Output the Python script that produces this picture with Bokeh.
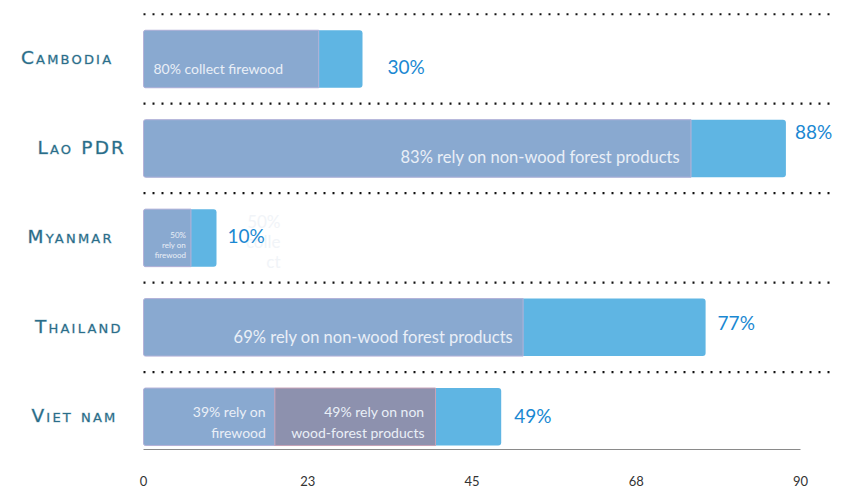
from bokeh.plotting import figure
from bokeh.layouts import row
from bokeh.models import Range1d, FixedTicker, ColumnDataSource, InlineStyleSheet
from bokeh.core.properties import value
from bokeh.embed import file_html
from bokeh.resources import INLINE

# ---------------- data ----------------
countries = ["Cambodia", "Lao PDR", "Myanmar", "Thailand", "Viet nam"]
totals = [30, 88, 10, 77, 49]
share_first = [24, 75, 6.5, 52, 18]
viet_second = 22
inner_labels = ["80% collect firewood",
                "83% rely on non-wood forest products",
                "50%\nrely on\nfirewood",
                "69% rely on non-wood forest products",
                "39% rely on\nfirewood"]
viet_second_label = "49% rely on non\nwood-forest products"
value_labels = ["30%", "88%", "10%", "77%", "49%"]
ghost_label = "50%\ncolle\nct"
tick_values = [0, 22.5, 45, 67.5, 90]
tick_labels = ["0", "23", "45", "68", "90"]

# ---------------- layout / style ----------------
PX = 7.3            # pixels per unit on x
LEFT_W = 133
MAIN_W = 708
H = 488
BOTTOM = 35
rows = list(range(len(countries) - 1, -1, -1))
yr = Range1d(-0.3657, 4.654)

inner_align = ["left", "right", "right", "right", "right"]
inner_size = ["14px", "16.5px", "8px", "16.5px", "14px"]
inner_dx = [10, -11, -5, -10, -9]
inner_dy = [10, 9, 7, 10, 5]
inner_lh = [1.2, 1.2, 1.0, 1.2, 1.25]
value_dx = [25, 9, 11, 12, 13]
value_dy = [8, -17, -2, -5, -1]

LIGHT = "#5fb5e3"
OVER = "#89a9d0"
OVER2 = "#8d91ae"
INNER_TXT = "#e9eff7"
VALUE_TXT = "#1a88d2"
LABEL_TXT = "#2a6d89"

# ---------------- left label panel ----------------
left = figure(width=LEFT_W, height=H, x_range=Range1d(0, LEFT_W), y_range=yr,
              output_backend="svg", toolbar_location=None,
              x_axis_location=None, y_axis_location=None,
              min_border_left=0, min_border_right=0, min_border_top=0,
              min_border_bottom=BOTTOM)
left.grid.visible = False
left.outline_line_color = None
left.stylesheets = [InlineStyleSheet(css=":host { font-variant: small-caps; letter-spacing: 2.2px; }")]
lsrc = ColumnDataSource(dict(y=rows, text=countries))
left.text(x=114, y="y", text="text", source=lsrc, text_align="right",
          text_baseline="middle", y_offset=-1,
          text_font=value("DejaVu Sans"), text_font_size="18.5px",
          text_color=LABEL_TXT, text_outline_color=(42, 109, 137, 0.3))

# ---------------- main chart ----------------
x0 = -10 / PX
main = figure(width=MAIN_W, height=H, x_range=Range1d(x0, x0 + MAIN_W / PX), y_range=yr,
              output_backend="svg", toolbar_location=None, y_axis_location=None,
              min_border_left=0, min_border_right=0, min_border_top=0,
              min_border_bottom=BOTTOM)
main.grid.visible = False
main.outline_line_color = None

src = ColumnDataSource(dict(y=rows, total=totals, first=share_first,
                            sep=[r + 0.5 for r in rows]))

# dotted separators
main.segment(x0=0, x1=94, y0="sep", y1="sep", source=src, line_color="#111111",
             line_width=2.2, line_dash="2 7")

BAR_H = 0.643
main.hbar(y="y", left=0, right="total", height=BAR_H, source=src,
          fill_color=LIGHT, line_color=None, border_radius=3)
main.hbar(y="y", left=0, right="first", height=BAR_H, source=src,
          fill_color=OVER, line_color="#b5b2d8", line_width=1, border_radius=(2, 0, 0, 2))
vi = countries.index("Viet nam")
main.hbar(y=[rows[vi]], left=[share_first[vi]], right=[share_first[vi] + viet_second],
          height=BAR_H, fill_color=OVER2, line_color="#c6a2b6", line_width=1)

# inner labels
for i, lab in enumerate(inner_labels):
    ax = 0 if inner_align[i] == "left" else share_first[i]
    main.text(x=[ax], y=[rows[i]], text=[lab], text_align=inner_align[i],
              text_baseline="middle", x_offset=inner_dx[i], y_offset=inner_dy[i],
              text_font=value("Lato"), text_font_size=inner_size[i],
              text_line_height=inner_lh[i], text_color=INNER_TXT)
main.text(x=[share_first[vi] + viet_second], y=[rows[vi]], text=[viet_second_label],
          text_align="right", text_baseline="middle", x_offset=-11, y_offset=5,
          text_font=value("Lato"), text_font_size="14px", text_line_height=1.25,
          text_color=INNER_TXT)

# faint ghost label near Myanmar
mi = countries.index("Myanmar")
main.text(x=[totals[mi]], y=[rows[mi]], text=[ghost_label], text_align="right",
          text_baseline="middle", x_offset=64, y_offset=4,
          text_font=value("Lato"), text_font_size="17px", text_line_height=0.95,
          text_color="#f1f4f8")

# value labels
vsrc = ColumnDataSource(dict(y=rows, x=totals, text=value_labels, dx=value_dx, dy=value_dy))
main.text(x="x", y="y", text="text", source=vsrc, x_offset="dx", y_offset="dy",
          text_align="left", text_baseline="middle",
          text_font=value("Lato"), text_font_size="19px", text_color=VALUE_TXT)

# axis
ax_ = main.xaxis[0]
ax_.ticker = FixedTicker(ticks=tick_values)
ax_.major_label_overrides = {t: l for t, l in zip(tick_values, tick_labels)}
ax_.bounds = (0, 90)
ax_.axis_line_color = "#8a8a8a"
ax_.axis_line_width = 1
ax_.major_tick_line_color = None
ax_.minor_tick_line_color = None
ax_.major_label_standoff = 20
ax_.major_label_text_font = "Lato"
ax_.major_label_text_font_size = "13px"
ax_.major_label_text_color = "#333333"

layout = row(left, main)
open("out.html", "w").write(file_html(layout, INLINE))
